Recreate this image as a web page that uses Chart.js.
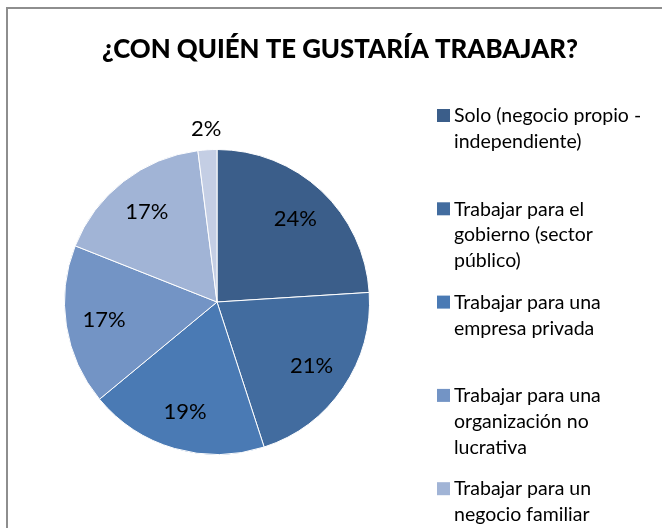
<!DOCTYPE html>
<html>
<head>
<meta charset="utf-8">
<script src="https://cdn.jsdelivr.net/npm/chart.js@4/dist/chart.umd.min.js"></script>
<style>
  html, body { margin: 0; padding: 0; background: #fff; }
  #wrap { position: relative; width: 662px; height: 528px; }
</style>
</head>
<body>
<div id="wrap"><canvas id="chart" width="662" height="528"></canvas></div>
<script>
// data
const title = "¿CON QUIÉN TE GUSTARÍA TRABAJAR?";
const categories = [
    ["Solo (negocio propio -", "independiente)"],
    ["Trabajar para el", "gobierno (sector", "público)"],
    ["Trabajar para una", "empresa privada"],
    ["Trabajar para una", "organización no", "lucrativa"],
    ["Trabajar para un", "negocio familiar"],
    ["Otro"]
];
const shares = [24, 21, 19, 17, 17, 2];
const sliceColors = ["#3b5e8a", "#426c9f", "#4a7ab4", "#7394c5", "#a1b4d6", "#c4cee4"];

const FONT = "Lato, 'Open Sans', sans-serif";

// frame, title, legend and percentage labels drawn on the canvas
const decor = {
    id: "decor",
    beforeDraw(chart) {
        const ctx = chart.ctx;
        ctx.save();
        ctx.fillStyle = "#fff";
        ctx.fillRect(0, 0, chart.width, chart.height);
        ctx.strokeStyle = "#8e8e8e";
        ctx.lineWidth = 2;
        ctx.strokeRect(7, 8, 720, 600);
        ctx.restore();
    },
    afterDraw(chart) {
        const ctx = chart.ctx;
        const ds = chart.data.datasets[0];
        const meta = chart.getDatasetMeta(0);
        ctx.save();

        // title
        ctx.fillStyle = "#000";
        ctx.font = "900 25.8px " + FONT;
        ctx.textAlign = "center";
        ctx.textBaseline = "middle";
        ctx.fillText(title, 340, 50);

        // percentage labels
        ctx.font = "22px " + FONT;
        meta.data.forEach((arc, i) => {
            const p = arc.getProps(["x", "y", "startAngle", "endAngle", "outerRadius"], true);
            const mid = (p.startAngle + p.endAngle) / 2;
            const r = ds.data[i] < 5 ? p.outerRadius * 1.14 : p.outerRadius * 0.75;
            ctx.fillText(ds.data[i] + "%", p.x + Math.cos(mid) * r, p.y + Math.sin(mid) * r);
        });

        // legend
        ctx.textAlign = "left";
        ctx.font = "19.5px " + FONT;
        chart.data.labels.forEach((lines, i) => {
            const y0 = 116 + i * 93.3;
            ctx.fillStyle = ds.backgroundColor[i];
            ctx.fillRect(437, y0 - 7, 13, 13);
            ctx.fillStyle = "#000";
            lines.forEach((t, j) => ctx.fillText(t, 454, y0 + j * 25.7));
        });
        ctx.restore();
    }
};

new Chart(document.getElementById("chart"), {
    type: "pie",
    plugins: [decor],
    data: {
        labels: categories,
        datasets: [{
            data: shares,
            backgroundColor: sliceColors,
            borderColor: "#ffffff",
            borderWidth: 1
        }]
    },
    options: {
        responsive: false,
        animation: false,
        layout: {
            padding: { left: 64, top: 149, right: 292, bottom: 73 }
        },
        plugins: {
            legend: { display: false },
            tooltip: { enabled: false },
            title: { display: false }
        }
    }
});
</script>
</body>
</html>
